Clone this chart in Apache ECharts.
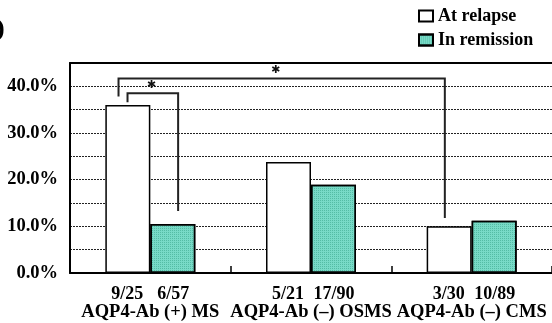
<!DOCTYPE html>
<html><head><meta charset="utf-8">
<script src="https://cdn.jsdelivr.net/npm/echarts@6/dist/echarts.min.js"></script>
<style>html,body{margin:0;padding:0;background:#fff}#c{width:552px;height:323px}</style>
</head><body><div id="c"></div>
<script>
var categories = ['AQP4-Ab (+) MS', 'AQP4-Ab (\u2013) OSMS', 'AQP4-Ab (\u2013) CMS'];
var relapseCounts = ['9/25', '5/21', '3/30'];
var remissionCounts = ['6/57', '17/90', '10/89'];
var relapseValues = [36.0, 23.8, 10.0];
var remissionValues = [10.5, 18.9, 11.2];
var seriesNames = ['At relapse', 'In remission'];
// significance brackets: [x1, x2, yTop, yLeftEnd, yRightEnd, starX, starY] in axis units
var brackets = [
  [0.358, 0.673, 38.5, 36.6, 13.3, 0.506, 40.2],
  [0.302, 2.333, 41.7, 37.8, 11.8, 1.28, 43.4]
];

var FONT = '"Liberation Serif", "Times New Roman", serif';
var chart = echarts.init(document.getElementById('c'));
chart.setOption({
  animation: false,
  textStyle: {fontFamily: FONT},
  graphic: [{type: 'text', left: -4, top: 16, style: {text: ')', font: 'bold 26px ' + FONT, fill: '#000'}}],
  legend: {
    orient: 'vertical', left: 413, top: 2, itemWidth: 14, itemHeight: 11, itemGap: 6,
    icon: 'rect',
    textStyle: {fontFamily: FONT, fontWeight: 'bold', fontSize: 18, color: '#000'},
    data: seriesNames
  },
  grid: {left: 70, right: -4, top: 63, bottom: 50, containLabel: false},
  xAxis: [{
    type: 'category', data: categories, boundaryGap: true,
    axisLine: {lineStyle: {color: '#000', width: 2}},
    axisTick: {show: true, inside: true, length: 7, interval: 0, lineStyle: {color: '#000', width: 1.5}},
    axisLabel: {
      interval: 0, margin: 12, color: '#000',
      formatter: function (v, i) {
        return '{a|' + relapseCounts[i] + '}{b|' + remissionCounts[i] + '}\n{c|' + v + '}';
      },
      rich: {
        a: {width: 46, align: 'center', fontFamily: FONT, fontWeight: 'bold', fontSize: 18, color: '#000', lineHeight: 18},
        b: {width: 46, align: 'center', fontFamily: FONT, fontWeight: 'bold', fontSize: 18, color: '#000', lineHeight: 18},
        c: {fontFamily: FONT, fontWeight: 'bold', fontSize: 18.5, color: '#000', lineHeight: 18}
      }
    }
  }, {
    type: 'value', min: 0, max: 3, position: 'top', show: true,
    axisLine: {show: true, onZero: false, lineStyle: {color: '#000', width: 2}},
    axisTick: {show: false}, axisLabel: {show: false}, splitLine: {show: false}
  }],
  yAxis: {
    type: 'value', min: 0, max: 45, interval: 5,
    axisLine: {show: true, lineStyle: {color: '#000', width: 2}},
    axisTick: {show: false},
    axisLabel: {
      color: '#000', fontFamily: FONT, fontWeight: 'bold', fontSize: 18.5, margin: 12,
      formatter: function (v) { return (v % 10 === 0) ? v.toFixed(1) + '%' : ''; }
    },
    splitLine: {show: true, lineStyle: {color: '#222', width: 1, type: [2, 1]}}
  },
  series: [{
    name: seriesNames[0], type: 'bar', data: relapseValues, barWidth: 45, barGap: '0%',
    itemStyle: {color: '#fff', borderColor: '#000', borderWidth: 1.5}
  }, {
    name: seriesNames[1], type: 'bar', data: remissionValues, barWidth: 45,
    itemStyle: {
      color: '#78dac7', borderColor: '#000', borderWidth: 1.5,
      decal: {symbol: 'rect', symbolSize: 1, dashArrayX: [1, 1], dashArrayY: [1, 1], color: 'rgba(40,150,125,0.45)', rotation: 0}
    }
  }, {
    type: 'custom', xAxisIndex: 1, data: brackets, z: 10, silent: true,
    renderItem: function (params, api) {
      var x1 = api.value(0), x2 = api.value(1), yt = api.value(2), yl = api.value(3), yr = api.value(4);
      var p1 = api.coord([x1, yl]), p2 = api.coord([x1, yt]), p3 = api.coord([x2, yt]), p4 = api.coord([x2, yr]);
      var s = api.coord([api.value(5), api.value(6)]);
      return {type: 'group', children: [
        {type: 'polyline', shape: {points: [p1, p2, p3, p4]}, style: {stroke: '#222', lineWidth: 2, fill: null}},
        {type: 'text', x: s[0], y: s[1], style: {text: '\u2731', font: 'bold 11px "DejaVu Sans"', fill: '#111', align: 'center', verticalAlign: 'middle'}}
      ]};
    }
  }]
});
</script></body></html>
